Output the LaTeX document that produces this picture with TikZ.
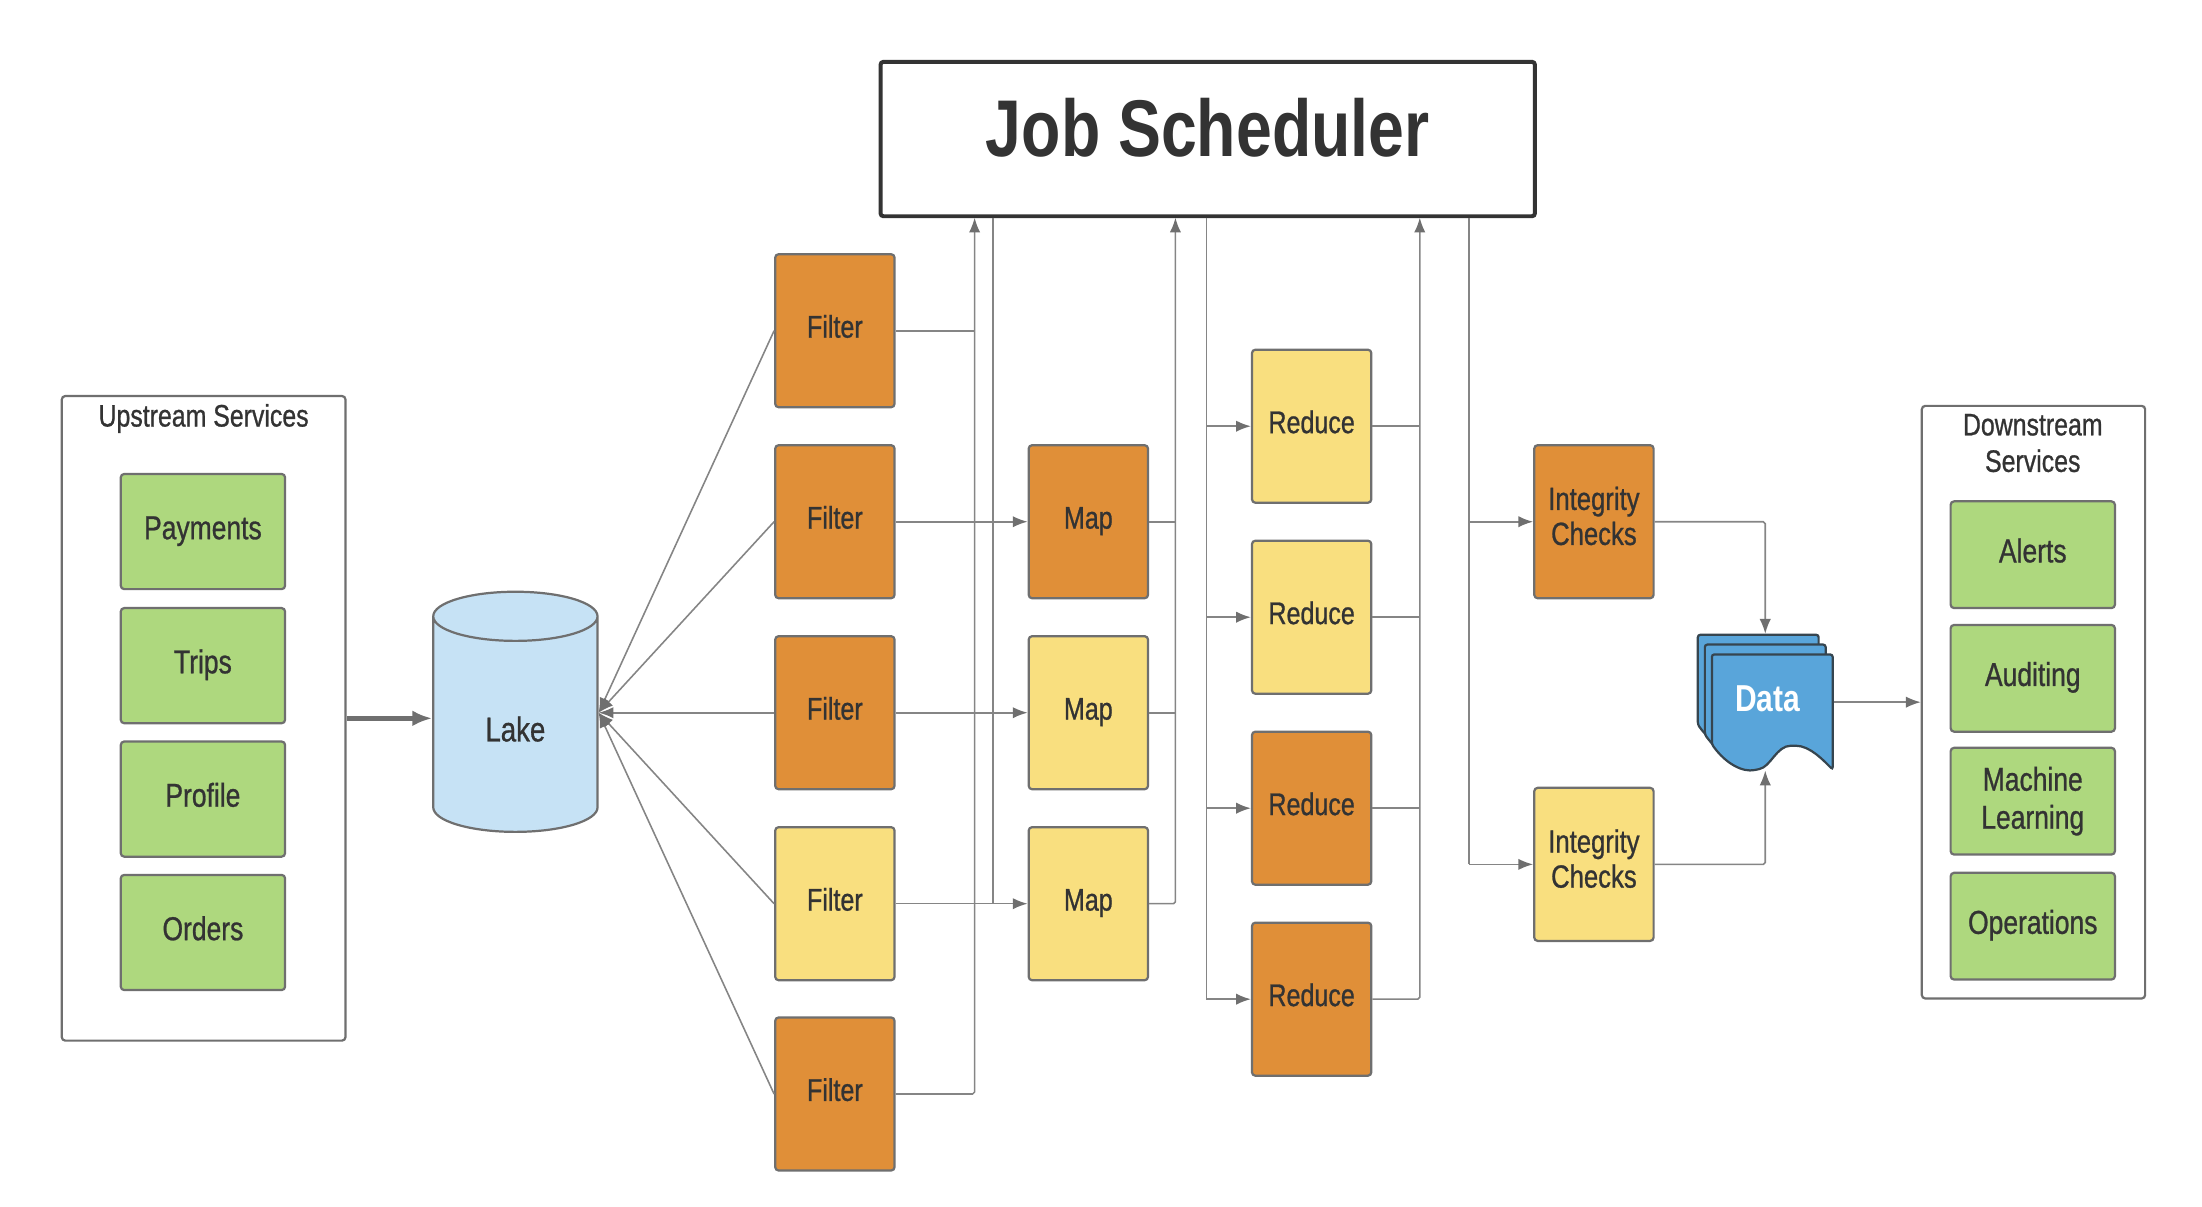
\documentclass[tikz,border=0pt]{standalone}
\usepackage{fontspec}
\setmainfont{Liberation Sans}[FakeStretch=0.8,UprightFeatures={FakeBold=0.8}]
\usetikzlibrary{arrows.meta,shapes.geometric}
\definecolor{boxLine}{HTML}{6F6F6F}
\definecolor{wireColor}{HTML}{858585}
\definecolor{inkColor}{HTML}{333333}
\definecolor{orangeFill}{HTML}{E08F38}
\definecolor{yellowFill}{HTML}{F9DF7F}
\definecolor{greenFill}{HTML}{AED87E}
\definecolor{lakeFill}{HTML}{C6E2F5}
\definecolor{dataFill}{HTML}{59A5DA}
\definecolor{dataLine}{HTML}{36454F}
\tikzset{
	base/.style={draw=boxLine,line width=.45pt,rounded corners=.7pt,text=inkColor,align=center,inner sep=0,
		font=\fontsize{6.7}{7.3}\selectfont},
	job/.style={base,fill=#1,minimum width=8.5mm,minimum height=10.9mm,text height=5pt,text depth=2.2pt,
		font=\fontsize{6.35}{7.1}\selectfont},
	svc/.style={base,fill=greenFill,minimum width=11.7mm,minimum height=#1,text height=5pt,text depth=1.9pt},
	check/.style={base,fill=#1,minimum width=8.5mm,minimum height=10.9mm,font=\fontsize{6.5}{7.1}\selectfont},
	group/.style={base,fill=white,minimum width=#1},
	caption/.style={inner sep=0,text=inkColor,align=center,font=\fontsize{6.3}{7.1}\selectfont},
	wire/.style={draw=wireColor,line width=.32pt,rounded corners=.4pt},
	flow/.style={wire,-{Latex[length=3pt,width=2.3pt,color=boxLine]}},
	sheet/.style={draw=dataLine,line width=.45pt,fill=dataFill,rounded corners=.5pt}
}
\newcommand{\lowstrut}{\rule[-2.4pt]{0pt}{0pt}}
\newcommand{\datasheet}[2]{\path[sheet,shift={(#1,#2)}] (0,64) .. controls (10,78) and (22,84) .. (32,82)
	.. controls (42,80) and (46,65) .. (58,65) .. controls (70,65) and (80,76) .. (86,82) -- (86,0) -- (0,0) -- cycle;}
\begin{document}
\begin{tikzpicture}[x=0.1mm,y=-0.1mm]
\useasboundingbox (0,0) rectangle (1568,859);
% left side
\node[group=20.2mm,minimum height=45.9mm] (upstream) at (145,511.5) {};
\node[caption] (upstreamText) at (145,298) {Upstream Services};
\node[svc=8.2mm] (payments) at (144.5,378.5) {Payments};
\node[svc=8.2mm] (trips) at (144.5,474) {Trips};
\node[svc=8.2mm] (profile) at (144.5,569) {Profile};
\node[svc=8.2mm] (orders) at (144.5,664) {Orders};
\node[cylinder,shape border rotate=90,aspect=.82,draw=boxLine,line width=.45pt,cylinder uses custom fill,
	cylinder body fill=lakeFill,cylinder end fill=lakeFill,minimum width=11.7mm,minimum height=17.1mm,inner sep=0,
	text=inkColor,text height=6.8pt,text depth=0pt,font=\fontsize{7}{8}\selectfont] (lake) at (367,516) {Lake};
% job scheduler
\node[draw=inkColor,line width=.8pt,rounded corners=.6pt,minimum width=46.6mm,minimum height=11mm,inner sep=0,
	text=inkColor,text height=12pt,text depth=5pt,font=\fontsize{16.3}{20}\selectfont\bfseries] (sched) at (860,99) {Job Scheduler};
% filter, map, reduce
\node[job=orangeFill] (filterA) at (594.5,235.5) {Filter};
\node[job=orangeFill] (filterB) at (594.5,371.5) {Filter};
\node[job=orangeFill] (filterC) at (594.5,507.5) {Filter};
\node[job=yellowFill] (filterD) at (594.5,643.5) {Filter};
\node[job=orangeFill] (filterE) at (594.5,779) {Filter};
\node[job=orangeFill] (mapA) at (775,371.5) {Map};
\node[job=yellowFill] (mapB) at (775,507.5) {Map};
\node[job=yellowFill] (mapC) at (775,643.5) {Map};
\node[job=yellowFill] (reduceA) at (934,303.5) {Reduce};
\node[job=yellowFill] (reduceB) at (934,439.5) {Reduce};
\node[job=orangeFill] (reduceC) at (934,575.5) {Reduce};
\node[job=orangeFill] (reduceD) at (934,711.5) {Reduce};
\node[check=orangeFill] (checkA) at (1135,371.5) {Integrity\\Checks\lowstrut};
\node[check=yellowFill] (checkB) at (1135,615.5) {Integrity\\Checks\lowstrut};
% data stack
\datasheet{1209}{452}
\datasheet{1214}{459}
\datasheet{1219}{466}
\node[minimum width=9.6mm,minimum height=9.6mm,inner sep=0,text=white,text height=5.5pt,text depth=1.6pt,
	font=\fontsize{7.6}{9}\selectfont\bfseries] (data) at (1257,500) {\hspace*{1pt}Data};
% right side
\node[group=15.9mm,minimum height=42.2mm] (downstream) at (1448,500) {};
\node[caption] (downstreamText) at (1447.5,315.5) {Downstream\\[.3pt]Services};
\node[svc=7.6mm] (alerts) at (1447.5,395) {Alerts};
\node[svc=7.6mm] (auditing) at (1447.5,483) {Auditing};
\node[base,fill=greenFill,minimum width=11.7mm,minimum height=7.6mm,font=\fontsize{6.7}{7.7}\selectfont] (learning) at (1447.5,570.5) {Machine\\Learning};
\node[svc=7.6mm] (ops) at (1447.5,659.5) {Operations};
% bus lines
\coordinate (busA) at (694,155);
\coordinate (busB) at (707,155);
\coordinate (busC) at (837,155);
\coordinate (busD) at (859,155);
\coordinate (busE) at (1011,155);
\coordinate (busF) at (1046,155);
\coordinate (lakeIn) at (lake.east |- filterC.west);
\draw[draw=boxLine,line width=.95pt,-{Latex[length=4pt,width=3.2pt]}] (upstream.east) -- (lake.west |- upstream.east);
\foreach \n in {filterA,filterB,filterC,filterD,filterE}
	\draw[flow] (\n.west) -- (lakeIn);
\draw[wire] (filterA.east) -- (filterA.east -| busA);
\draw[flow] (filterE.east) -| (busA);
\foreach \n in {filterB,filterC,filterD}
	\draw[wire] (\n.east) -- (\n.east -| busB);
\draw[wire] (busB) -- (mapC.west -| busB);
\foreach \n in {mapA,mapB,mapC}
	\draw[flow] (\n.west -| busB) -- (\n.west);
\foreach \n in {mapA,mapB}
	\draw[wire] (\n.east) -- (\n.east -| busC);
\draw[flow] (mapC.east) -| (busC);
\draw[wire] (busD) -- (reduceD.west -| busD);
\foreach \n in {reduceA,reduceB,reduceC,reduceD}
	\draw[flow] (\n.west -| busD) -- (\n.west);
\foreach \n in {reduceA,reduceB,reduceC}
	\draw[wire] (\n.east) -- (\n.east -| busE);
\draw[flow] (reduceD.east) -| (busE);
\draw[wire] (busF) -- (checkB.west -| busF);
\foreach \n in {checkA,checkB}
	\draw[flow] (\n.west -| busF) -- (\n.west);
\draw[flow] (checkA.east) -| (data.north);
\draw[flow] (checkB.east) -| (data.south);
\draw[flow] (data.east) -- (downstream.west);
\end{tikzpicture}
\end{document}
